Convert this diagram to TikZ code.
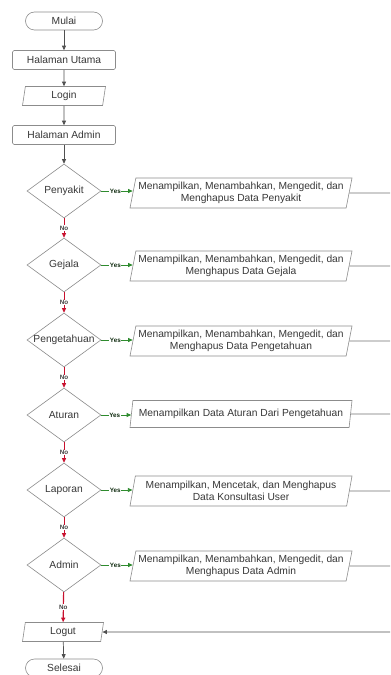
\documentclass[tikz,border=0pt]{standalone}
\usepackage{fontspec}
\setmainfont{Liberation Sans}
\usetikzlibrary{shapes.geometric,arrows.meta}
\definecolor{bordc}{HTML}{8C8C8C}
\definecolor{linec}{HTML}{505050}
\definecolor{txtc}{HTML}{383838}
\definecolor{yesc}{HTML}{2E8B2E}
\definecolor{noc}{HTML}{C8102E}
\begin{document}
\begin{tikzpicture}[x=1bp,y=-1bp,
 base/.style={draw=bordc, line width=0.6bp, text=txtc, font=\fontsize{10.3}{12}\selectfont, inner sep=1bp, align=center},
 term/.style={base, rectangle, rounded corners=9bp, minimum width=77bp, minimum height=18bp},
 proc/.style={base, rectangle, rounded corners=1.5bp, minimum width=103bp, minimum height=19bp},
 io/.style={base, trapezium, trapezium left angle=76, trapezium right angle=104, trapezium stretches body},
 smallio/.style={io, minimum width=83bp, minimum height=19bp},
 bigio/.style={io, minimum width=222bp, minimum height=30bp},
 dec/.style={base, diamond, minimum width=74bp, minimum height=54bp, inner sep=0pt},
 flow/.style={draw=linec, line width=0.7bp, -{Triangle[length=4.5bp,width=4bp]}},
 plain/.style={draw=linec!80, line width=0.7bp},
 yesarr/.style={draw=yesc, line width=0.8bp, -{Triangle[length=4.5bp,width=4bp]}},
 noarr/.style={draw=noc, line width=0.8bp, -{Triangle[length=4.5bp,width=4bp]}},
 ylab/.style={fill=white, inner sep=0.6bp, font=\fontsize{6.3}{7}\selectfont\bfseries, text=black!70!yesc},
 nlab/.style={fill=white, inner sep=0.6bp, font=\fontsize{6.3}{7}\selectfont\bfseries, text=black!75}
]
\useasboundingbox[fill=white] (0,0) rectangle (390,675);

\node[term] (mulai) at (64,21) {Mulai};
\node[proc] (utama) at (64,60) {Halaman Utama};
\node[smallio] (login) at (64,96) {Login};
\node[proc] (hadmin) at (64,135) {Halaman Admin};

\node[dec] (d1) at (64,191) {\makebox[0pt]{Penyakit}};
\node[dec] (d2) at (64,265) {\makebox[0pt]{Gejala}};
\node[dec] (d3) at (64,340) {\makebox[0pt]{Pengetahuan}};
\node[dec] (d4) at (64,415) {\makebox[0pt]{Aturan}};
\node[dec] (d5) at (64,490) {\makebox[0pt]{Laporan}};
\node[dec] (d6) at (64,565) {\makebox[0pt]{Admin}};

\node[bigio] (p1) at (241,193) {Menampilkan, Menambahkan, Mengedit, dan\\Menghapus Data Penyakit};
\node[bigio] (p2) at (241,266) {Menampilkan, Menambahkan, Mengedit, dan\\Menghapus Data Gejala};
\node[bigio] (p3) at (241,341) {Menampilkan, Menambahkan, Mengedit, dan\\Menghapus Data Pengetahuan};
\node[bigio, minimum height=27bp] (p4) at (241,414) {Menampilkan Data Aturan Dari Pengetahuan};
\node[bigio] (p5) at (241,491) {Menampilkan, Mencetak, dan Menghapus\\Data Konsultasi User};
\node[bigio] (p6) at (241,566) {Menampilkan, Menambahkan, Mengedit, dan\\Menghapus Data Admin};

\node[smallio, minimum width=81bp] (logut) at (63,632) {Logut};
\node[term] (selesai) at (64,668) {Selesai};

\coordinate (r1) at (390,193);
\coordinate (r2) at (390,266);
\coordinate (r3) at (390,341);
\coordinate (r4) at (390,414);
\coordinate (r5) at (390,491);
\coordinate (r6) at (390,566);
\coordinate (rl) at (390,632);

\draw[flow] (mulai) -- (utama);
\draw[flow] (utama) -- (login);
\draw[flow] (login) -- (hadmin);
\draw[flow] (hadmin) -- (d1);

\foreach \i in {1,...,6}{
  \draw[yesarr] (d\i.east) -- (d\i.east -| p\i.west) node[ylab, pos=0.45] {Yes};
  \draw[plain] (p\i.east) -- (r\i);
}
\foreach \i/\j in {1/2,2/3,3/4,4/5,5/6}{
  \draw[noarr] (d\i) -- (d\j) node[nlab, midway] {No};
}
\draw[noarr, line width=1.1bp] (d6) -- (logut) node[nlab, midway] {No};
\draw[flow] (rl) -- (logut.east);
\draw[flow] (logut) -- (selesai);
\end{tikzpicture}
\end{document}
